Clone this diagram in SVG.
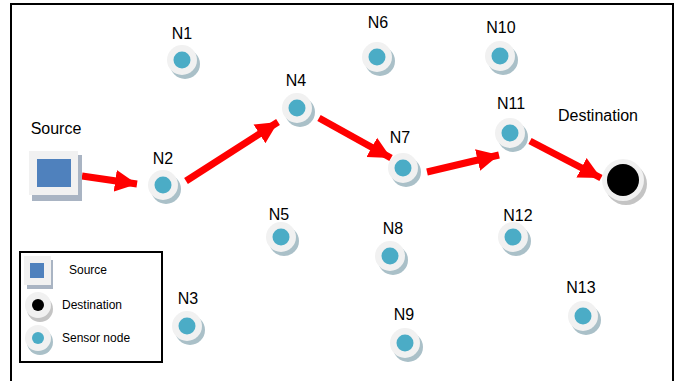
<svg xmlns="http://www.w3.org/2000/svg" width="680" height="381" viewBox="0 0 680 381">
<defs>
<style>
.lbl{font-family:"Liberation Sans",Arial,sans-serif;font-size:16px;fill:#000;text-anchor:middle}
.leg{font-family:"Liberation Sans",Arial,sans-serif;font-size:12px;fill:#000}
.sh{fill:#aac0c8}
.disc{fill:#f1f1f1}
.core{fill:#4bacc6}
.arr{stroke:#ff0000;stroke-width:7;fill:none}
</style>
<marker id="ah" markerUnits="userSpaceOnUse" markerWidth="24" markerHeight="24" viewBox="0 0 24 24" refX="22" refY="12" orient="auto">
<path d="M0,1 L22,12 L0,23 Z" fill="#ff0000"/>
</marker>
<g id="sensor">
<circle class="sh" cx="3" cy="4" r="15"/>
<circle class="disc" cx="0" cy="0" r="15"/>
<circle class="core" cx="0" cy="0" r="8.5"/>
</g>
</defs>
<rect x="0" y="0" width="680" height="381" fill="#fff"/>
<path d="M11,381 V4 H673 V381" fill="none" stroke="#000" stroke-width="2"/>

<g id="connectors">
<line class="arr" x1="82" y1="176" x2="137" y2="184" marker-end="url(#ah)"/>
<line class="arr" x1="186" y1="181" x2="278" y2="122" marker-end="url(#ah)"/>
<line class="arr" x1="319" y1="118" x2="391" y2="158" marker-end="url(#ah)"/>
<line class="arr" x1="427" y1="172" x2="499" y2="155" marker-end="url(#ah)"/>
<line class="arr" x1="530" y1="141" x2="601" y2="178" marker-end="url(#ah)"/>
</g>

<g id="source">
<rect x="32" y="155" width="50" height="46" fill="#a9b4c3"/>
<rect x="29" y="151" width="49" height="44" fill="#f1f1f1"/>
<rect x="37" y="159" width="34" height="28" fill="#4f81bd"/>
<text class="lbl" x="56" y="134">Source</text>
</g>

<g id="destination">
<circle cx="626" cy="184" r="21" fill="#c4c4c4"/>
<circle cx="623" cy="180" r="21" fill="#f1f1f1"/>
<circle cx="623" cy="180" r="16" fill="#000"/>
<text class="lbl" x="598" y="121">Destination</text>
</g>

<g id="N1"><use href="#sensor" x="182" y="60"/><text class="lbl" x="182" y="39">N1</text></g>
<g id="N2"><use href="#sensor" x="163" y="185"/><text class="lbl" x="163" y="164">N2</text></g>
<g id="N3"><use href="#sensor" x="187" y="326"/><text class="lbl" x="188" y="304">N3</text></g>
<g id="N4"><use href="#sensor" x="297" y="108"/><text class="lbl" x="296" y="86">N4</text></g>
<g id="N5"><use href="#sensor" x="281" y="237"/><text class="lbl" x="279" y="220">N5</text></g>
<g id="N6"><use href="#sensor" x="377" y="57"/><text class="lbl" x="378" y="28">N6</text></g>
<g id="N7"><use href="#sensor" x="403" y="168"/><text class="lbl" x="400" y="143">N7</text></g>
<g id="N8"><use href="#sensor" x="390" y="256"/><text class="lbl" x="393" y="234">N8</text></g>
<g id="N9"><use href="#sensor" x="405" y="343"/><text class="lbl" x="404" y="320">N9</text></g>
<g id="N10"><use href="#sensor" x="500" y="56"/><text class="lbl" x="501" y="33">N10</text></g>
<g id="N11"><use href="#sensor" x="510" y="133"/><text class="lbl" x="511" y="109">N11</text></g>
<g id="N12"><use href="#sensor" x="513" y="237"/><text class="lbl" x="518" y="221">N12</text></g>
<g id="N13"><use href="#sensor" x="583" y="316"/><text class="lbl" x="581" y="293">N13</text></g>

<g id="legend">
<rect x="20" y="252" width="142" height="110" fill="#fff" stroke="#000" stroke-width="2"/>
<rect x="27" y="260" width="26" height="29" fill="#a9b4c3"/>
<rect x="24" y="256" width="27" height="29" fill="#f1f1f1"/>
<rect x="30" y="263" width="14" height="15" fill="#4f81bd"/>
<text class="leg" x="69" y="274">Source</text>
<circle cx="40" cy="309" r="13" fill="#c4c4c4"/>
<circle cx="38" cy="305" r="13" fill="#f1f1f1"/>
<circle cx="38" cy="305" r="6" fill="#000"/>
<text class="leg" x="62" y="309">Destination</text>
<circle class="sh" cx="40" cy="342" r="13"/>
<circle class="disc" cx="38" cy="338" r="13"/>
<circle class="core" cx="38" cy="338" r="6"/>
<text class="leg" x="62" y="342">Sensor node</text>
</g>
</svg>
